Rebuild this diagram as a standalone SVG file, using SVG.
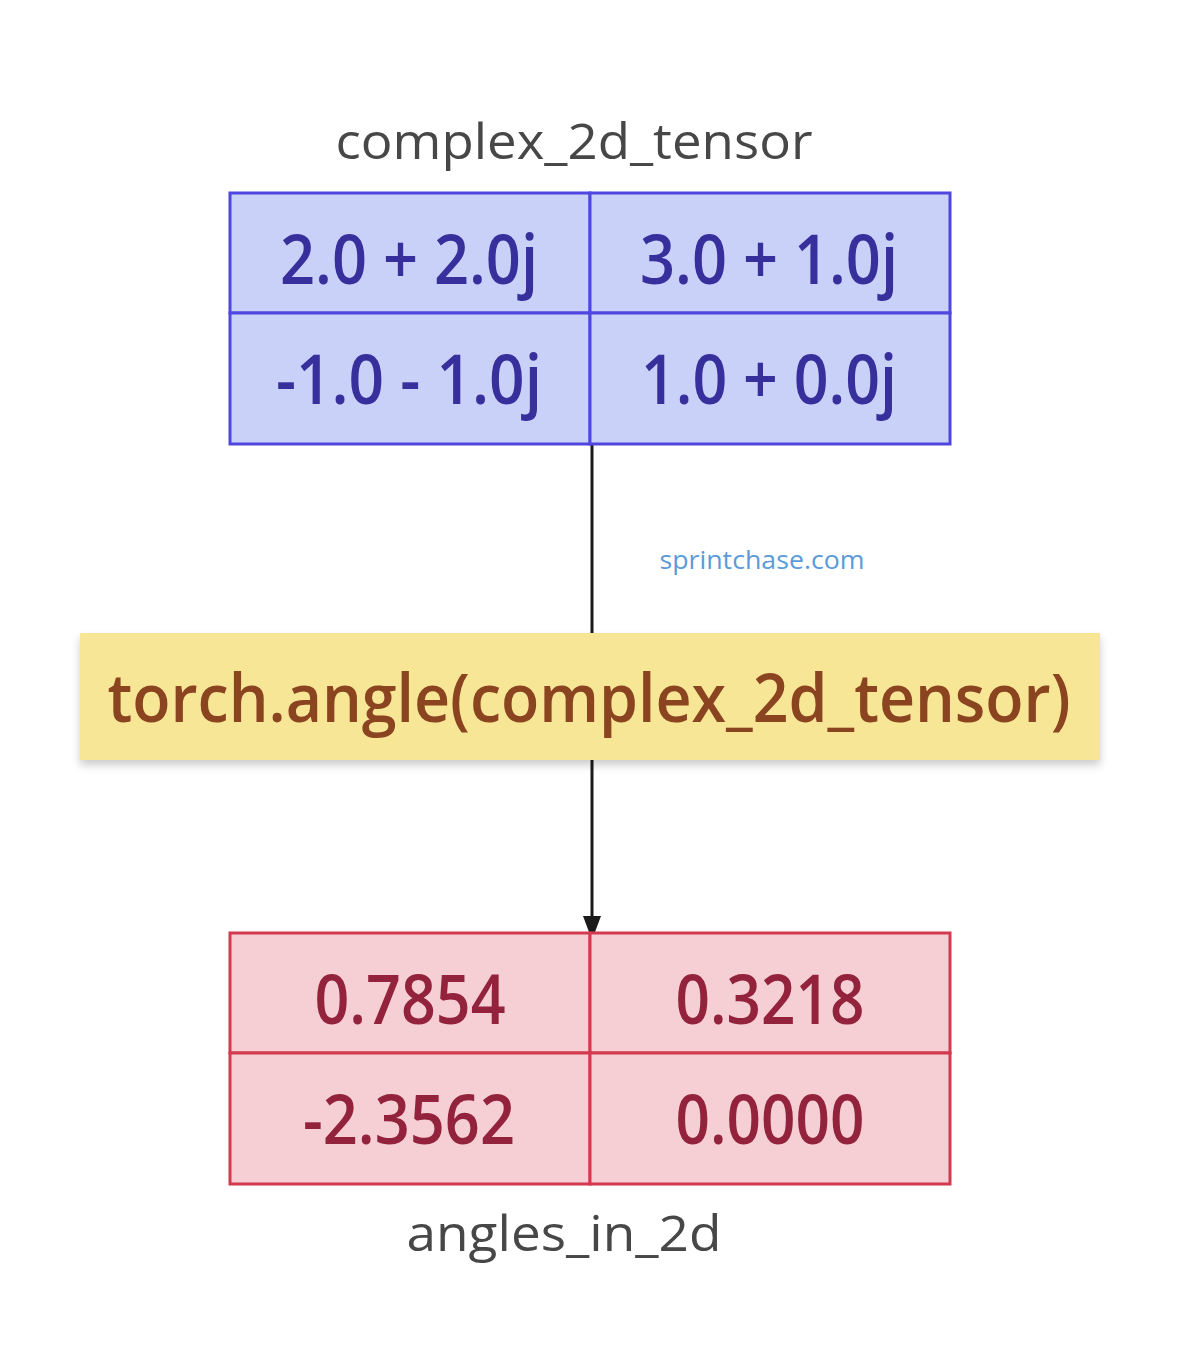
<svg xmlns="http://www.w3.org/2000/svg" width="1180" height="1366" viewBox="0 0 1180 1366">
<defs>
<style>
text{font-family:"Open Sans","Noto Sans","DejaVu Sans",sans-serif;text-anchor:middle}
.lbl{font-size:50px;fill:#474747;font-weight:500}
.cb{fill:#c9d1f9;stroke:#4f46e0;stroke-width:3}
.ct{font-size:68px;fill:#37309c;font-weight:600}
.cr{fill:#f5cfd4;stroke:#d3394f;stroke-width:3}
.rt{font-size:68px;fill:#93233c;font-weight:600}
.edge{stroke:#1a1a1a;stroke-width:3;fill:none}
</style>
<filter id="sh" x="-5%" y="-20%" width="110%" height="150%">
<feDropShadow dx="0" dy="5" stdDeviation="4" flood-color="#000" flood-opacity="0.2"/>
</filter>
</defs>
<rect width="1180" height="1366" fill="#ffffff"/>
<g id="connectors">
<line class="edge" x1="592" y1="445" x2="592" y2="633"/>
<line class="edge" x1="592" y1="760" x2="592" y2="918"/>
<path d="M583,916 L601,916 L592,940 Z" fill="#1a1a1a"/>
</g>
<g id="complex_2d_tensor">
<text class="lbl" x="574" y="159" textLength="477" lengthAdjust="spacingAndGlyphs">complex_2d_tensor</text>
<rect class="cb" x="230" y="193" width="360" height="120"/>
<rect class="cb" x="590" y="193" width="360" height="120"/>
<rect class="cb" x="230" y="313" width="360" height="131"/>
<rect class="cb" x="590" y="313" width="360" height="131"/>
<text class="ct" x="409" y="284" textLength="258" lengthAdjust="spacingAndGlyphs">2.0 + 2.0j</text>
<text class="ct" x="769" y="284" textLength="258" lengthAdjust="spacingAndGlyphs">3.0 + 1.0j</text>
<text class="ct" x="409" y="404" textLength="266" lengthAdjust="spacingAndGlyphs">-1.0 - 1.0j</text>
<text class="ct" x="769" y="404" textLength="256" lengthAdjust="spacingAndGlyphs">1.0 + 0.0j</text>
</g>
<g id="watermark">
<text x="762" y="569" style="font-size:26px;fill:#5b9bd8;font-weight:500" textLength="205" lengthAdjust="spacingAndGlyphs">sprintchase.com</text>
</g>
<g id="torch_angle">
<rect x="80" y="633" width="1020" height="127" fill="#f8e697" filter="url(#sh)"/>
<text x="589" y="722" style="font-size:67px;fill:#8b4420;font-weight:600" textLength="963" lengthAdjust="spacingAndGlyphs">torch.angle(complex_2d_tensor)</text>
</g>
<g id="angles_in_2d">
<rect class="cr" x="230" y="933" width="360" height="120"/>
<rect class="cr" x="590" y="933" width="360" height="120"/>
<rect class="cr" x="230" y="1053" width="360" height="131"/>
<rect class="cr" x="590" y="1053" width="360" height="131"/>
<text class="rt" x="410" y="1024" textLength="191" lengthAdjust="spacingAndGlyphs">0.7854</text>
<text class="rt" x="770" y="1024" textLength="189" lengthAdjust="spacingAndGlyphs">0.3218</text>
<text class="rt" x="409" y="1144" textLength="212" lengthAdjust="spacingAndGlyphs">-2.3562</text>
<text class="rt" x="770" y="1144" textLength="189" lengthAdjust="spacingAndGlyphs">0.0000</text>
<text class="lbl" x="564" y="1251" textLength="315" lengthAdjust="spacingAndGlyphs">angles_in_2d</text>
</g>
</svg>
